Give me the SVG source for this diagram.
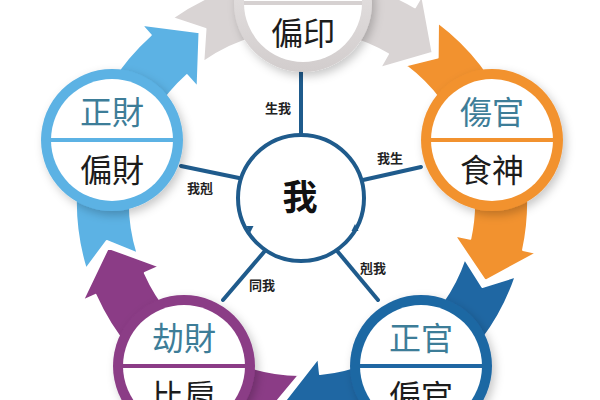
<svg xmlns="http://www.w3.org/2000/svg" width="600" height="400" viewBox="0 0 600 400">
<defs>
<filter id="sh" x="-30%" y="-30%" width="160%" height="160%">
<feDropShadow dx="3" dy="4" stdDeviation="5" flood-color="#000" flood-opacity="0.22"/>
</filter>
<linearGradient id="greyRing" x1="0" y1="0" x2="0" y2="1">
<stop offset="0" stop-color="#ece9e9"/>
<stop offset="1" stop-color="#d2cdcd"/>
</linearGradient>
<path id="arrow" d="M172.4,17.9 L205.5,29 L203.3,62.1 A172,172 0 0 1 388,54 L380,67.9 L432.6,52.8 L422,-4.8 L415,7.3 A226,226 0 0 0 172.4,17.9 Z"/>
</defs>
<style>
.arr{stroke:#fff;stroke-width:2;stroke-linejoin:round}
.inner{fill:#fff}
.up{font-family:"Noto Sans CJK TC","Noto Sans CJK SC",sans-serif;font-size:32px;fill:#3d7d98;text-anchor:middle}
.lo{font-family:"Noto Sans CJK TC","Noto Sans CJK SC",sans-serif;font-size:32px;fill:#1c1c1c;text-anchor:middle}
.spoke{stroke:#1f5b8c;stroke-width:4;stroke-linecap:round}
.lbl{font-family:"Noto Sans CJK TC","Noto Sans CJK SC",sans-serif;font-size:13px;font-weight:bold;fill:#222;text-anchor:middle}
.me{font-family:"Noto Sans CJK TC","Noto Sans CJK SC",sans-serif;font-size:35px;font-weight:bold;fill:#111;text-anchor:middle}
</style>
<rect width="600" height="400" fill="#fff"/>

<g id="flow-arrows">
<use href="#arrow" class="arr" fill="#d9d4d4"/>
<use href="#arrow" class="arr" fill="#f2922f" transform="rotate(72 302 203)"/>
<use href="#arrow" class="arr" fill="#1f67a3" transform="rotate(144 302 203)"/>
<use href="#arrow" class="arr" fill="#8b3c86" transform="rotate(216 302 203)"/>
<use href="#arrow" class="arr" fill="#5cb2e4" transform="rotate(288 302 203)"/>
</g>

<g id="connectors">
<line class="spoke" x1="301" y1="72" x2="301" y2="136"/>
<line class="spoke" x1="421" y1="167" x2="363" y2="180"/>
<line class="spoke" x1="181" y1="166" x2="239" y2="178"/>
<line class="spoke" x1="223" y1="300" x2="264" y2="252"/>
<line class="spoke" x1="378" y1="300" x2="338" y2="252"/>
<text class="lbl" x="278" y="113">生我</text>
<text class="lbl" x="390" y="163">我生</text>
<text class="lbl" x="200" y="193">我剋</text>
<text class="lbl" x="373" y="273">剋我</text>
<text class="lbl" x="262" y="290">同我</text>
</g>

<g id="node-me">
<circle cx="301" cy="198" r="63" fill="#fff" stroke="#1f5b8c" stroke-width="4"/>
<path d="M246.5,226 L253.5,226 L250,233 Z" fill="#1f5b8c"/>
<path d="M351.5,231 L358.5,231 L355,224 Z" fill="#1f5b8c"/>
<text class="me" x="300" y="210">我</text>
</g>

<g id="node-pianyin">
<circle cx="303" cy="3" r="69" fill="url(#greyRing)" filter="url(#sh)"/>
<circle class="inner" cx="303" cy="3" r="59"/>
<line x1="244" y1="3" x2="362" y2="3" stroke="#d6d1d1" stroke-width="4"/>
<text class="lo" x="303" y="45">偏印</text>
</g>

<g id="node-shangguan">
<circle cx="492" cy="140" r="71" fill="#f2922f" filter="url(#sh)"/>
<circle class="inner" cx="492" cy="140" r="61"/>
<line x1="431" y1="140" x2="553" y2="140" stroke="#f2922f" stroke-width="4"/>
<text class="up" x="492" y="124">傷官</text>
<text class="lo" x="492" y="182">食神</text>
</g>

<g id="node-zhengguan">
<circle cx="421" cy="366" r="71" fill="#1f67a3" filter="url(#sh)"/>
<circle class="inner" cx="421" cy="366" r="61"/>
<line x1="360" y1="366" x2="482" y2="366" stroke="#1f67a3" stroke-width="4"/>
<text class="up" x="421" y="350">正官</text>
<text class="lo" x="421" y="408">偏官</text>
</g>

<g id="node-jiecai">
<circle cx="184" cy="366" r="71" fill="#8b3c86" filter="url(#sh)"/>
<circle class="inner" cx="184" cy="366" r="61"/>
<line x1="123" y1="366" x2="245" y2="366" stroke="#8b3c86" stroke-width="4"/>
<text class="up" x="184" y="350">劫財</text>
<text class="lo" x="184" y="408">比肩</text>
</g>

<g id="node-zhengcai">
<circle cx="112" cy="140" r="71" fill="#5cb2e4" filter="url(#sh)"/>
<circle class="inner" cx="112" cy="140" r="61"/>
<line x1="51" y1="140" x2="173" y2="140" stroke="#5cb2e4" stroke-width="4"/>
<text class="up" x="112" y="124">正財</text>
<text class="lo" x="112" y="182">偏財</text>
</g>
</svg>
